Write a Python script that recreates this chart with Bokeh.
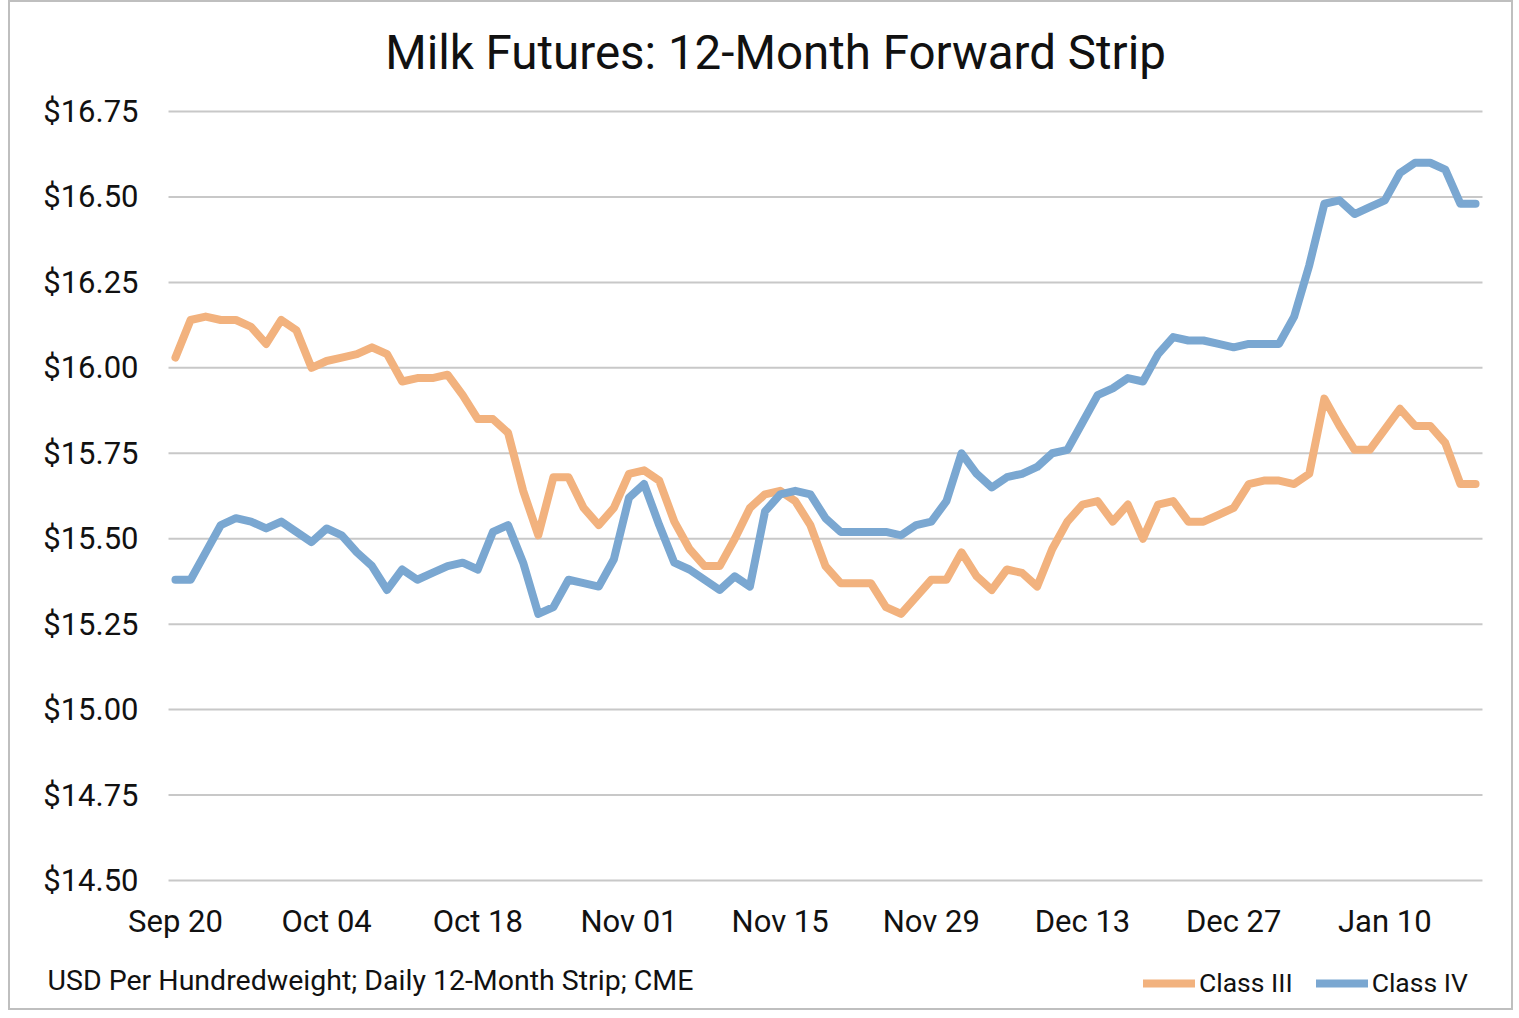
from bokeh.plotting import figure
from bokeh.models import Range1d, FixedTicker, Legend, LegendItem, NumeralTickFormatter, Label
from bokeh.embed import file_html
from bokeh.resources import INLINE

# Daily 12-month strip, trading days Sep 20 2021 .. Jan 18 2022 (category axis)
class_iii = [16.03, 16.14, 16.15, 16.14, 16.14, 16.12, 16.07, 16.14, 16.11, 16.00,
             16.02, 16.03, 16.04, 16.06, 16.04, 15.96, 15.97, 15.97, 15.98, 15.92,
             15.85, 15.85, 15.81, 15.64, 15.51, 15.68, 15.68, 15.59, 15.54, 15.59,
             15.69, 15.70, 15.67, 15.55, 15.47, 15.42, 15.42, 15.50, 15.59, 15.63,
             15.64, 15.61, 15.54, 15.42, 15.37, 15.37, 15.37, 15.30, 15.28, 15.33,
             15.38, 15.38, 15.46, 15.39, 15.35, 15.41, 15.40, 15.36, 15.47, 15.55,
             15.60, 15.61, 15.55, 15.60, 15.50, 15.60, 15.61, 15.55, 15.55, 15.57,
             15.59, 15.66, 15.67, 15.67, 15.66, 15.69, 15.91, 15.83, 15.76, 15.76,
             15.82, 15.88, 15.83, 15.83, 15.78, 15.66, 15.66]

class_iv = [15.38, 15.38, 15.46, 15.54, 15.56, 15.55, 15.53, 15.55, 15.52, 15.49,
            15.53, 15.51, 15.46, 15.42, 15.35, 15.41, 15.38, 15.40, 15.42, 15.43,
            15.41, 15.52, 15.54, 15.43, 15.28, 15.30, 15.38, 15.37, 15.36, 15.44,
            15.62, 15.66, 15.54, 15.43, 15.41, 15.38, 15.35, 15.39, 15.36, 15.58,
            15.63, 15.64, 15.63, 15.56, 15.52, 15.52, 15.52, 15.52, 15.51, 15.54,
            15.55, 15.61, 15.75, 15.69, 15.65, 15.68, 15.69, 15.71, 15.75, 15.76,
            15.84, 15.92, 15.94, 15.97, 15.96, 16.04, 16.09, 16.08, 16.08, 16.07,
            16.06, 16.07, 16.07, 16.07, 16.15, 16.30, 16.48, 16.49, 16.45, 16.47,
            16.49, 16.57, 16.60, 16.60, 16.58, 16.48, 16.48]

tick_labels = ["Sep 20", "Oct 04", "Oct 18", "Nov 01", "Nov 15",
               "Nov 29", "Dec 13", "Dec 27", "Jan 10"]
tick_positions = [0, 10, 20, 30, 40, 50, 60, 70, 80]
y_ticks = [14.50, 14.75, 15.00, 15.25, 15.50, 15.75, 16.00, 16.25, 16.50, 16.75]

title_text = "Milk Futures: 12-Month Forward Strip"
footer_text = "USD Per Hundredweight; Daily 12-Month Strip; CME"

x = list(range(len(class_iii)))

FONT = "Roboto"
TXT = "#111111"
ORANGE = "#F2B27E"
BLUE = "#7AA7D1"

# category area of the axis: half a step of padding on each side
X0, X1 = -0.46, len(x) - 1 + 0.46
Y0, Y1 = 14.50, 16.75

# The frame fills the whole canvas; axes sit at fixed locations so that the
# title, note and legend (drawn inside the frame) are not clipped.
p = figure(width=1505, height=1010, output_backend="svg", toolbar_location=None,
           x_range=Range1d(-10.912, 88.643), y_range=Range1d(14.1138, 17.0689),
           min_border_left=0, min_border_right=0, min_border_top=0, min_border_bottom=0)
p.styles = {"border": "2px solid #BFBFBF", "margin-left": "8px"}
p.outline_line_color = None
p.background_fill_color = "white"
p.border_fill_color = "white"

# horizontal gridlines limited to the plot area
p.segment(x0=[X0] * len(y_ticks), x1=[X1] * len(y_ticks), y0=y_ticks, y1=y_ticks,
          line_color="#C8C8C8", line_width=2, level="underlay")

r3 = p.line(x, class_iii, line_color=ORANGE, line_width=8, line_join="round", line_cap="round")
r4 = p.line(x, class_iv, line_color=BLUE, line_width=8, line_join="round", line_cap="round")

# axes
p.yaxis.ticker = FixedTicker(ticks=y_ticks)
p.yaxis.formatter = NumeralTickFormatter(format="$0.00")
p.yaxis.fixed_location = X0
p.xaxis.ticker = FixedTicker(ticks=tick_positions)
p.xaxis.major_label_overrides = {t: l for t, l in zip(tick_positions, tick_labels)}
p.xaxis.fixed_location = Y0
for ax in (p.xaxis, p.yaxis):
    ax.axis_line_color = None
    ax.major_tick_line_color = None
    ax.minor_tick_line_color = None
    ax.major_label_text_font = FONT
    ax.major_label_text_font_size = "31px"
    ax.major_label_text_color = TXT
p.yaxis.major_label_standoff = 24
p.xaxis.major_label_standoff = 16

p.xgrid.grid_line_color = None
p.ygrid.grid_line_color = None

# title
p.add_layout(Label(x=39.693, y=16.92, text=title_text,
                   text_font=FONT, text_font_size="47.5px", text_color=TXT,
                   text_align="center", text_baseline="middle"))
# footnote
p.add_layout(Label(x=-8.464, y=14.2074, text=footer_text,
                   text_font=FONT, text_font_size="28.5px", text_color=TXT,
                   text_align="left", text_baseline="middle"))

legend = Legend(items=[LegendItem(label="Class III", renderers=[r3]),
                       LegendItem(label="Class IV", renderers=[r4])],
                orientation="horizontal", location=(1133, 14),
                glyph_width=52, glyph_height=30, label_height=30,
                label_standoff=4, spacing=23, padding=0, margin=0,
                border_line_color=None, background_fill_alpha=0,
                label_text_font=FONT, label_text_font_size="26.5px", label_text_color=TXT)
p.add_layout(legend)

open("out.html", "w").write(file_html(p, INLINE))
